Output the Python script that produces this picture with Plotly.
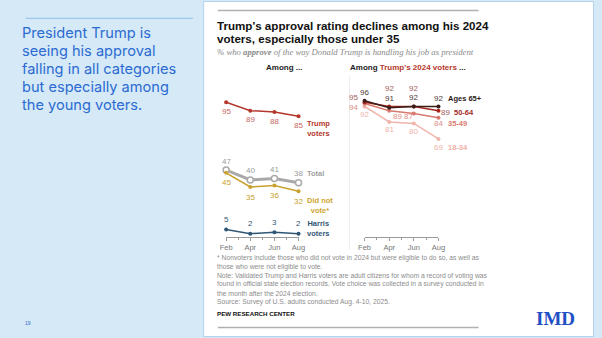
import plotly.graph_objects as go

W, H = 602, 338

months = ["Feb", "Apr", "Jun", "Aug"]
trump_voters = [95, 89, 88, 85]
total = [47, 40, 41, 38]
did_not_vote = [45, 35, 36, 32]
harris_voters = [5, 2, 3, 2]

ages_65 = [96, 91, 92, 92]
ages_50_64 = [95, 92, 92, 89]
ages_35_49 = [94, 89, 87, 84]
ages_18_34 = [92, 81, 80, 69]

slide_text = ["President Trump is", "seeing his approval", "falling in all categories",
              "but especially among", "the young voters."]
title_lines = ["Trump's approval rating declines among his 2024", "voters, especially those under 35"]
footnotes = [
    "* Nonvoters include those who did not vote in 2024 but were eligible to do so, as well as",
    "those who were not eligible to vote.",
    "Note: Validated Trump and Harris voters are adult citizens for whom a record of voting was",
    "found in official state election records. Vote choice was collected in a survey conducted in",
    "the month after the 2024 election.",
    "Source: Survey of U.S. adults conducted Aug. 4-10, 2025.",
]

xs = list(range(len(months)))


def px(x):
    return x / W


def py(y):
    return 1 - y / H


BG = "#d6e9f6"
SANS = "Liberation Sans, Arial, sans-serif"

fig = go.Figure()

# ---- left panel series
left_series = [
    (trump_voters, "#b5372c", 1.5, dict(size=4, color="#b5372c")),
    (total, "#a9a9a9", 3, dict(size=6, color="white", line=dict(color="#a9a9a9", width=1.5))),
    (did_not_vote, "#c9a12d", 1.5, dict(size=4, color="#c9a12d")),
    (harris_voters, "#2f5675", 1.5, dict(size=4, color="#2f5675")),
]
for vals, col, lw, mk in left_series:
    fig.add_trace(go.Scatter(x=xs, y=vals, mode="lines+markers", line=dict(color=col, width=lw),
                             marker=mk, xaxis="x", yaxis="y", cliponaxis=False, hoverinfo="skip"))

right_series = [
    (ages_18_34, "#f0b4ab"),
    (ages_35_49, "#d97a6f"),
    (ages_50_64, "#a5291f"),
    (ages_65, "#3b1d1a"),
]
for vals, col in right_series:
    fig.add_trace(go.Scatter(x=xs, y=vals, mode="lines+markers", line=dict(color=col, width=1.5),
                             marker=dict(size=4, color=col), xaxis="x2", yaxis="y2",
                             cliponaxis=False, hoverinfo="skip"))

ann = []


def lab(xref, yref, x, y, text, color, size=8, xshift=0, yshift=0, xanchor="center", bold=False):
    ann.append(dict(xref=xref, yref=yref, x=x, y=y, text=("<b>%s</b>" % text) if bold else text,
                    showarrow=False, xanchor=xanchor, yanchor="middle", xshift=xshift, yshift=yshift,
                    borderpad=0,
                    font=dict(family=SANS, size=size, color=color)))


# left value labels
for i, v in enumerate(trump_voters):
    lab("x", "y", i, v, str(v), "#c4675e", yshift=-9)
for i, v in enumerate(total):
    lab("x", "y", i, v, str(v), "#9a9a9a", yshift=9)
for i, v in enumerate(did_not_vote):
    lab("x", "y", i, v, str(v), "#c9a12d", yshift=-10)
for i, v in enumerate(harris_voters):
    lab("x", "y", i, v, str(v), "#2f5675", yshift=10)

# left series labels
last = len(months) - 1
lab("x", "y", last, trump_voters[-1], "Trump<br>voters", "#b5372c", size=7.5, xshift=7,
    yshift=-12, xanchor="left", bold=True)
lab("x", "y", last, total[-1], "Total", "#a0a0a0", size=7.5, xshift=7, yshift=9, xanchor="left", bold=True)
lab("x", "y", last, did_not_vote[-1], "Did not<br>vote*", "#cfa52f", size=7.5, xshift=7,
    yshift=-14, xanchor="left", bold=True)
lab("x", "y", last, harris_voters[-1], "Harris<br>voters", "#2f5675", size=7.5, xshift=7,
    yshift=5, xanchor="left", bold=True)

# right value labels
c65, c50, c35, c18 = "#4e3a38", "#a0605a", "#dc8f86", "#f0b4ab"
lab("x2", "y2", 0, ages_65[0], str(ages_65[0]), c65, yshift=8.5)
lab("x2", "y2", 0, ages_50_64[0], str(ages_50_64[0]), c50, xshift=-11, yshift=4.5)
lab("x2", "y2", 0, ages_35_49[0], str(ages_35_49[0]), c35, xshift=-11, yshift=-3.5)
lab("x2", "y2", 0, ages_18_34[0], str(ages_18_34[0]), c18, yshift=-8)
for i in (1, 2):
    lab("x2", "y2", i, ages_50_64[i], str(ages_50_64[i]), c50, yshift=17.5)
    lab("x2", "y2", i, ages_65[i], str(ages_65[i]), c65, yshift=9)
    lab("x2", "y2", i, ages_18_34[i], str(ages_18_34[i]), c18, yshift=-8)
lab("x2", "y2", 1, ages_35_49[1], str(ages_35_49[1]), c35, xshift=8, yshift=-6)
lab("x2", "y2", 2, ages_35_49[2], str(ages_35_49[2]), c35, xshift=-5, yshift=-3)
lab("x2", "y2", 3, ages_65[3], str(ages_65[3]), c65, yshift=8)
lab("x2", "y2", 3, ages_50_64[3], str(ages_50_64[3]), c50, xshift=7.5, yshift=-2)
lab("x2", "y2", 3, ages_35_49[3], str(ages_35_49[3]), c35, yshift=-6)
lab("x2", "y2", 3, ages_18_34[3], str(ages_18_34[3]), c18, yshift=-9)

lab("x2", "y2", 3, ages_65[3], "Ages 65+", "#2d1b19", size=7.5, xshift=9, yshift=8, xanchor="left", bold=True)
lab("x2", "y2", 3, ages_50_64[3], "50-64", "#a5291f", size=7.5, xshift=14.5, yshift=-2, xanchor="left", bold=True)
lab("x2", "y2", 3, ages_35_49[3], "35-49", "#d97a6f", size=7.5, xshift=9, yshift=-6, xanchor="left", bold=True)
lab("x2", "y2", 3, ages_18_34[3], "18-34", "#f0b0a8", size=7.5, xshift=9, yshift=-9, xanchor="left", bold=True)

# panel headers
lab("paper", "paper", px(284), py(67), "Among ...", "#222222", size=8, bold=True)
lab("paper", "paper", px(411), py(67.3),
    "Among <span style='color:#b5372c'>Trump's 2024 voters</span> ...", "#222222", size=8, bold=True)

# title & subtitle
for k, t in enumerate(title_lines):
    lab("paper", "paper", px(214.5), py(25 + 13.3 * k), t, "#111111", size=11.6, xanchor="left", bold=True)
ann.append(dict(xref="paper", yref="paper", x=px(214.5), y=py(52), xanchor="left", yanchor="middle",
                showarrow=False, borderpad=0,
                text="<i>% who <b>approve</b> of the way Donald Trump is handling his job as president</i>",
                font=dict(family="Liberation Serif, Times New Roman, serif", size=8.7, color="#8a8a8a")))

# footnotes
for k, t in enumerate(footnotes):
    lab("paper", "paper", px(214.5), py(258.3 + 8.7 * k), t, "#8c8c8c", size=6.75, xanchor="left")
lab("paper", "paper", px(214.5), py(313.3), "PEW RESEARCH CENTER", "#111111", size=6.2, xanchor="left", bold=True)

# slide text
for k, t in enumerate(slide_text):
    ann.append(dict(xref="paper", yref="paper", x=px(15), y=py(32.7 + 18.15 * k), xanchor="left",
                    yanchor="middle", showarrow=False, text=t, borderpad=0,
                    font=dict(family="Inter, Roboto, sans-serif", size=14.6, color="#2b6bd2")))
lab("paper", "paper", px(22.5), py(323), "19", "#2b6bd2", size=5)

# IMD logo
ann.append(dict(xref="paper", yref="paper", x=px(562), y=py(318.5), xanchor="center", yanchor="middle",
                showarrow=False, text="<b>IMD</b>",
                font=dict(family="Liberation Serif, Times New Roman, serif", size=19, color="#1f4fc4")))

shapes = [
    dict(type="rect", xref="paper", yref="paper", x0=px(202), x1=px(600.5), y0=py(336.5), y1=py(1.5),
         fillcolor="white", line=dict(color="#b3d2ee", width=1), layer="below"),
    dict(type="line", xref="paper", yref="paper", x0=px(20), x1=px(191), y0=py(18.3), y1=py(18.3),
         line=dict(color="#8fbfe9", width=1)),
    dict(type="line", xref="paper", yref="paper", x0=px(216.5), x1=px(483), y0=py(10.5), y1=py(10.5),
         line=dict(color="#b0b0b0", width=1.5)),
    dict(type="line", xref="paper", yref="paper", x0=px(216.5), x1=px(483), y0=py(327.5), y1=py(327.5),
         line=dict(color="#b0b0b0", width=1.5)),
    dict(type="line", xref="paper", yref="paper", x0=px(351), x1=px(351), y0=py(76), y1=py(250),
         line=dict(color="#ececec", width=1)),
]

ydom = [py(236.5), py(95.1)]
xaxis_common = dict(range=[0, 3], tickvals=xs, ticktext=months, showgrid=False, zeroline=False,
                    showline=True, linecolor="#9a9a9a", linewidth=1, ticks="outside", ticklen=3,
                    tickcolor="#9a9a9a", tickfont=dict(family=SANS, size=7.5, color="#777777"),
                    minor=dict(dtick=0.5, ticks="outside", ticklen=2, tickcolor="#9a9a9a"),
                    fixedrange=True)
yaxis_common = dict(range=[0, 100], domain=ydom, visible=False, fixedrange=True)

fig.update_layout(
    width=W, height=H, margin=dict(l=0, r=0, t=0, b=0),
    paper_bgcolor=BG, plot_bgcolor="rgba(0,0,0,0)", showlegend=False,
    xaxis=dict(domain=[px(225), px(299)], anchor="y", **xaxis_common),
    xaxis2=dict(domain=[px(366.5), px(442)], anchor="y2", **xaxis_common),
    yaxis=dict(anchor="x", **yaxis_common),
    yaxis2=dict(anchor="x2", **yaxis_common),
    annotations=ann, shapes=shapes,
)

fig.write_html("out.html")
